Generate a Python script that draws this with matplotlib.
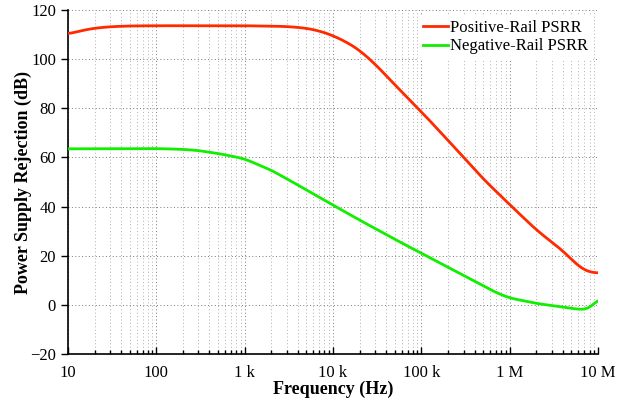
import numpy as np
import matplotlib.pyplot as plt
from matplotlib.ticker import LogLocator, NullFormatter

plt.rcParams['font.family'] = ['Liberation Serif', 'DejaVu Serif']

# frequency points (Hz)
freq_pos = [10, 15, 20, 30, 50, 100, 300, 1000, 3000, 5000, 7000, 10000, 15000,
            20000, 30000, 50000, 100000, 200000, 300000, 500000, 1000000,
            2000000, 3000000, 4000000, 5000000, 6000000, 7000000, 8000000, 9000000, 10000000]
psrr_pos = [110.2, 111.8, 112.6, 113.2, 113.5, 113.6, 113.6, 113.6, 113.3, 112.6, 111.5, 109.6, 106.5,
            103.6, 98.0, 89.6, 78.6, 67.0, 60.0, 51.3, 40.8,
            30.5, 25.5, 22.0, 18.5, 15.8, 14.0, 13.2, 13.0, 13.0]

freq_neg = [10, 30, 100, 200, 300, 500, 700, 1000, 2000, 3000, 5000, 10000, 20000,
            50000, 100000, 200000, 300000, 500000, 700000, 1000000, 2000000,
            3000000, 4000000, 5000000, 6000000, 7000000, 8000000, 9000000, 10000000]
psrr_neg = [63.5, 63.6, 63.6, 63.3, 62.8, 61.6, 60.6, 59.4, 54.8, 51.3, 46.8, 40.6, 34.5,
            26.7, 21.0, 15.3, 12.0, 7.8, 5.0, 2.8, 0.6,
            -0.3, -0.9, -1.4, -1.8, -1.9, -1.3, 0.2, 2.5]

xtick_vals = [10, 100, 1e3, 1e4, 1e5, 1e6, 1e7]
xtick_labels = ['10', '100', '1 k', '10 k', '100 k', '1 M', '10 M']
ytick_vals = [-20, 0, 20, 40, 60, 80, 100, 120]

fig = plt.figure(figsize=(6.23, 4.0), dpi=100)
ax = fig.add_axes([0.109, 0.115, 0.851, 0.86])

# smooth the read points in log-frequency
def smooth(f, v, n=600, w=21):
    lf = np.log10(f)
    xs = np.linspace(lf[0], lf[-1], n)
    ys = np.interp(xs, lf, v)
    k = np.ones(w) / w
    ys = np.convolve(np.pad(ys, w // 2, mode='edge'), k, mode='valid')
    return 10 ** xs, ys

fx, fy = smooth(freq_pos, psrr_pos)
gx, gy = smooth(freq_neg, psrr_neg, w=15)

ax.plot(fx, fy, color='#ff2a00', lw=2.0, label='Positive-Rail PSRR', zorder=3)
ax.plot(gx, gy, color='#11ee00', lw=2.0, label='Negative-Rail PSRR', zorder=3)

ax.set_xscale('log')
ax.set_xlim(10, 1e7)
ax.set_ylim(-20, 120)
ax.set_xticks(xtick_vals)
ax.set_xticklabels(xtick_labels)
ax.xaxis.set_minor_locator(LogLocator(base=10, subs=np.arange(2, 10), numticks=20))
ax.xaxis.set_minor_formatter(NullFormatter())
ax.set_yticks(ytick_vals)

ax.grid(which='major', color='#777777', ls=(0, (1, 2.5)), lw=0.7)
ax.grid(which='minor', axis='x', color='#b0b0b0', ls=(0, (1, 2.5)), lw=0.7)

for s in ['top', 'right']:
    ax.spines[s].set_visible(False)
ax.spines['left'].set_linewidth(1.2)
ax.spines['bottom'].set_linewidth(1.2)

ax.tick_params(axis='x', which='major', direction='in', length=5, width=1, labelsize=12, pad=8)
ax.tick_params(axis='x', which='minor', direction='in', length=3, width=1)
ax.tick_params(axis='y', which='major', direction='out', length=5, width=1, labelsize=12)

ax.set_xlabel('Frequency (Hz)', fontsize=13, fontweight='bold', labelpad=0)
ax.set_ylabel('Power Supply Rejection (dB)', fontsize=13, fontweight='bold', labelpad=-1)

leg = ax.legend(loc='upper right', fontsize=12, frameon=True, fancybox=False,
                framealpha=1, edgecolor='white', handlelength=1.5, handletextpad=0.15,
                borderaxespad=0.3, borderpad=0.3, labelspacing=0.15)
leg.get_frame().set_linewidth(0)

fig.savefig('out.png', dpi=100)
